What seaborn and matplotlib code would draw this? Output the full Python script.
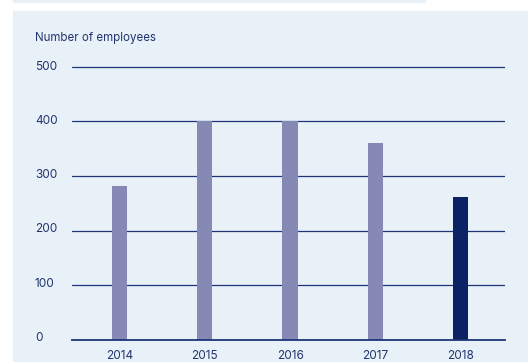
import matplotlib
matplotlib.use("Agg")
import matplotlib.pyplot as plt
from matplotlib.patches import Rectangle
import seaborn as sns
import pandas as pd

# Headcount by year
years = ["2014", "2015", "2016", "2017", "2018"]
employees = [282, 400, 400, 361, 262]
bar_colors = ["#8589B3", "#8589B3", "#8589B3", "#8589B3", "#0B2265"]
y_ticks = [0, 100, 200, 300, 400, 500]
title = "Number of employees"

PANEL = "#E8F0F8"
NAVY = "#1E3478"
TEXT = "#23356E"

sns.set_theme(style="white")
plt.rcParams["font.family"] = ["Inter", "DejaVu Sans"]

W, H = 528, 362
fig = plt.figure(figsize=(W / 100, H / 100), dpi=100)
fig.patch.set_facecolor("white")

# Background panels
fig.patches.append(Rectangle((13 / W, 1 - 2 / H), (425 - 13) / W, 2 / H,
                             transform=fig.transFigure, color=PANEL, zorder=-10))
fig.patches.append(Rectangle((13 / W, 0), 1 - 13 / W, 1 - 11 / H,
                             transform=fig.transFigure, color=PANEL, zorder=-10))

left, right, top, bottom = 72, 505, 60, 340
ax = fig.add_axes([left / W, 1 - bottom / H, (right - left) / W, (bottom - top) / H])
ax.set_zorder(5)
ax.set_facecolor("none")

df = pd.DataFrame({"year": years, "employees": employees})
sns.barplot(data=df, x="year", y="employees", hue="year", palette=bar_colors,
            legend=False, width=0.178, saturation=1, linewidth=0, ax=ax, zorder=3)

ax.set_xlim(-0.557, 4.52)
ax.set_ylim(0, 512)
ax.set_yticks(y_ticks[1:])
ax.set_yticklabels([])
ax.tick_params(axis="both", length=0)

# Horizontal grid lines
for v in y_ticks[1:]:
    ax.axhline(v, color=NAVY, lw=0.9, zorder=1)
for v in y_ticks:
    ax.text(-0.557 - 37 / 85.25, v + 7 - v * 0.01, str(v), ha="left",
            va="center_baseline", fontsize=8.5, color=TEXT,
            transform=ax.transData, clip_on=False)

for s in ["top", "right", "left"]:
    ax.spines[s].set_visible(False)
ax.spines["bottom"].set_color(NAVY)
ax.spines["bottom"].set_linewidth(1.3)
ax.spines["bottom"].set_zorder(4)

ax.set_xlabel("")
ax.set_ylabel("")
ax.tick_params(axis="x", pad=7, labelsize=8.5, labelcolor=TEXT)

fig.text(35 / W, 1 - 38 / H, title, ha="left", va="center", fontsize=8.3, color=TEXT)

fig.savefig("out.png", dpi=100, facecolor="white")
